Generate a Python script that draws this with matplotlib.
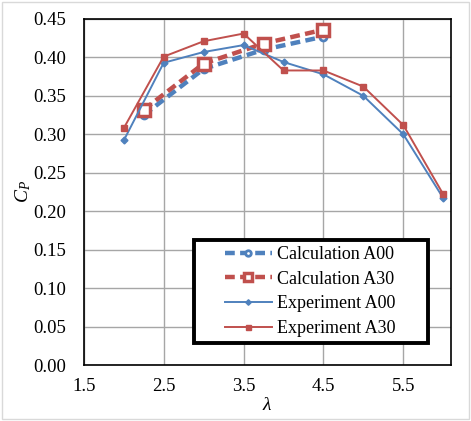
import matplotlib
matplotlib.use('Agg')
import matplotlib.pyplot as plt
from matplotlib.patches import Rectangle

plt.rcParams['font.family'] = ['Liberation Serif', 'DejaVu Serif']
plt.rcParams['mathtext.fontset'] = 'custom'
plt.rcParams['mathtext.it'] = 'Liberation Serif:italic'
plt.rcParams['mathtext.rm'] = 'Liberation Serif'

# tip speed ratio vs power coefficient
calc_x = [2.25, 3.0, 3.75, 4.5]
calc_a00 = [0.325, 0.385, 0.410, 0.427]
calc_a30 = [0.332, 0.392, 0.418, 0.436]

exp_x = [2.0, 2.5, 3.0, 3.5, 4.0, 4.5, 5.0, 5.5, 6.0]
exp_a00 = [0.292, 0.393, 0.407, 0.416, 0.394, 0.378, 0.350, 0.300, 0.217]
exp_a30 = [0.308, 0.401, 0.421, 0.431, 0.383, 0.383, 0.362, 0.312, 0.222]

blue = '#4F81BD'
red = '#C0504D'

fig = plt.figure(figsize=(4.71, 4.21), dpi=100)
ax = fig.add_axes([0.178, 0.133, 0.78, 0.822])

ax.plot(calc_x, calc_a00, color=blue, lw=3.2, ls=(0, (2.2, 1.2)), marker='o', ms=5,
        mfc='white', mec=blue, mew=2, label='Calculation A00', zorder=3)
ax.plot(calc_x, calc_a30, color=red, lw=3.2, ls=(0, (2.2, 1.2)), marker='s', ms=8,
        mfc='white', mec=red, mew=2.5, label='Calculation A30', zorder=3)
ax.plot(exp_x, exp_a00, color=blue, lw=1.4, marker='D', ms=3.5,
        label='Experiment A00', zorder=4)
ax.plot(exp_x, exp_a30, color=red, lw=1.4, marker='s', ms=4.5,
        label='Experiment A30', zorder=4)

ax.set_xlim(1.5, 6.1)
ax.set_ylim(0, 0.45)
ax.set_xticks([1.5, 2.5, 3.5, 4.5, 5.5])
ax.set_yticks([i * 0.05 for i in range(10)])
ax.set_yticklabels(['%.2f' % (i * 0.05) for i in range(10)])
ax.tick_params(axis='y', length=0, labelsize=13.5, pad=13)
ax.tick_params(axis='x', length=0, labelsize=13.5, pad=9)
ax.grid(True, color='#A6A6A6', lw=1)
ax.set_axisbelow(True)
for s in ax.spines.values():
    s.set_color('black')
    s.set_linewidth(1.2)

ax.set_xlabel(r'$\lambda$', fontsize=14, labelpad=2)
ax.set_ylabel(r'$C_P$', fontsize=14, labelpad=0)

# legend box drawn separately so it can be wider than the entries
ax.add_patch(Rectangle((0.300, 0.064), 0.637, 0.297, transform=ax.transAxes,
                       fc='white', ec='black', lw=2.8, zorder=5))
leg = ax.legend(loc='center left', bbox_to_anchor=(0.384, 0.2125), fontsize=13,
                frameon=False, handlelength=2.6, borderpad=0,
                labelspacing=0.42, handletextpad=0.3, borderaxespad=0,
                markerscale=0.8)
leg.set_zorder(6)

fig.patches.append(Rectangle((0.004, 0.004), 0.992, 0.992, transform=fig.transFigure,
                             fill=False, ec='#D9D9D9', lw=1))

fig.savefig('out.png', dpi=100)
